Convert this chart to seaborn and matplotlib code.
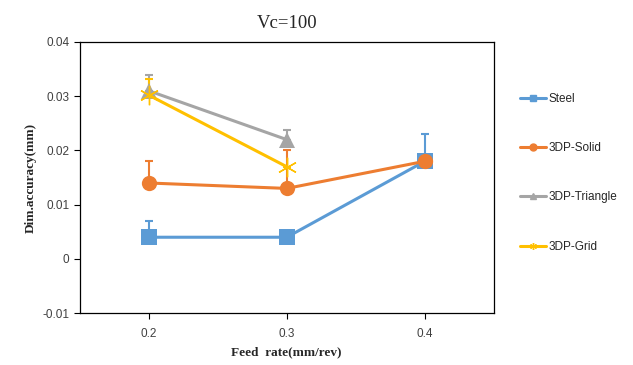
import pandas as pd
import numpy as np
import matplotlib
matplotlib.use('Agg')
import matplotlib.pyplot as plt
import seaborn as sns
from matplotlib.lines import Line2D

sns.set_style('white')

# data
feed = ['0.2', '0.3', '0.4']
steel = [0.004, 0.004, 0.018]
steel_err = [0.003, 0.0, 0.005]
solid = [0.014, 0.013, 0.018]
solid_err = [0.004, 0.007, 0.0]
triangle = [0.031, 0.022, np.nan]
triangle_err = [0.003, 0.0017, 0.0]
grid = [0.0302, 0.017, np.nan]
grid_err = [0.003, 0.0, 0.0]

names = ['Steel', '3DP-Solid', '3DP-Triangle', '3DP-Grid']
colors = ['#5B9BD5', '#ED7D31', '#A5A5A5', '#FFC000']
markers = ['s', 'o', '^', (6, 2, 0)]
msizes = [12, 11, 11, 14]

rows = []
for name, vals in zip(names, [steel, solid, triangle, grid]):
    for i, v in enumerate(vals):
        if not np.isnan(v):
            rows.append({'pos': i, 'val': v, 'series': name})
df = pd.DataFrame(rows)
errs = dict(zip(names, [steel_err, solid_err, triangle_err, grid_err]))

fig = plt.figure(figsize=(6.33, 3.65), dpi=100)
ax = fig.add_axes([0.126, 0.142, 0.654, 0.743])

# error bars first (upper only)
for name, c in zip(names, colors):
    sub = df[df['series'] == name]
    e = [errs[name][p] for p in sub['pos']]
    ax.errorbar(sub['pos'], sub['val'], yerr=[np.zeros(len(e)), e],
                fmt='none', ecolor=c, elinewidth=1.5, capsize=3, capthick=1.5, zorder=2)

for name, c, m, ms in zip(names, colors, markers, msizes):
    sub = df[df['series'] == name]
    sns.lineplot(data=sub, x='pos', y='val', color=c, marker=m, markersize=ms,
                 markeredgecolor=c, markeredgewidth=1.0 if name == '3DP-Grid' else 0,
                 linewidth=2.2, ax=ax, zorder=3, legend=False)

ax.set_xlim(-0.5, 2.5)
ax.set_ylim(-0.01, 0.04)
ax.set_xticks(range(len(feed)))
ax.set_xticklabels(feed)
ax.set_yticks([-0.01, 0, 0.01, 0.02, 0.03, 0.04])
ax.set_yticklabels(['-0.01', '0', '0.01', '0.02', '0.03', '0.04'])
ax.tick_params(axis='both', direction='out', length=4, width=0.8, color='black',
               labelsize=8.5, labelcolor='#404040', bottom=True, left=True)
for lab in ax.get_xticklabels() + ax.get_yticklabels():
    lab.set_family('Liberation Sans')
ax.xaxis.set_tick_params(pad=7)
for s in ax.spines.values():
    s.set_color('black')
    s.set_linewidth(0.9)

ax.set_xlabel('Feed  rate(mm/rev)', family='Liberation Serif', fontweight='bold', fontsize=9.5)
ax.set_ylabel('Dim.accuracy(mm)', family='Liberation Serif', fontweight='bold', fontsize=9.5)
ax.set_title('Vc=100', family='Liberation Serif', fontsize=13.5, pad=10)

handles = [Line2D([0], [0], color=c, marker=m, markersize=5, linewidth=2.2,
                  markeredgecolor=c) for c, m in zip(colors, markers)]
fig.legend(handles, names, loc='upper left', bbox_to_anchor=(0.805, 0.775),
           frameon=False, labelspacing=3.16, handlelength=2.2, handletextpad=0.2,
           prop={'family': 'Liberation Sans', 'size': 8.5})

fig.savefig('out.png', dpi=100)
